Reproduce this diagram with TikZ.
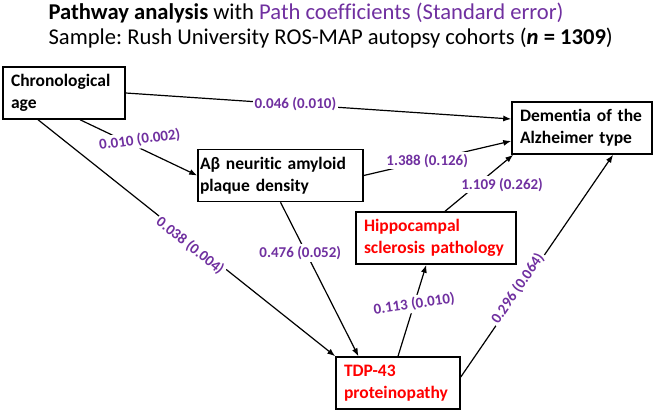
\documentclass[tikz,border=0pt]{standalone}
\usepackage{fontspec}
\setmainfont{Carlito}[Ligatures=NoCommon]
\setsansfont{Carlito}[Ligatures=NoCommon]
\frenchspacing
\usetikzlibrary{arrows.meta, calc}
\definecolor{cpurple}{HTML}{7030A0}
\definecolor{cred}{HTML}{FF0000}
\tikzset{
  every picture/.style={line width=1.2pt},
  box/.style={draw, line width=1.5pt, align=left, inner xsep=8pt, inner ysep=0pt, minimum height=52pt, font=\fontsize{17.5}{22}\selectfont\bfseries},
  arrow/.style={-{Latex[length=8pt, width=6pt]}, line width=1.2pt},
  coef/.style={font=\fontsize{15}{17}\selectfont\bfseries, text=cpurple, fill=white, inner sep=2pt},
  title/.style={anchor=base west, inner sep=0pt, font=\fontsize{22.6}{26}\selectfont},
}

\begin{document}
\begin{tikzpicture}[x=1pt, y=-1pt]
  \useasboundingbox (0,0) rectangle (655,413);
  % heading
  \node[title] (head) at (48,19) {\textbf{Pathway analysis} with \textcolor{cpurple}{Path coefficients (Standard error)}};
  \node[title] (sample) at (48,44) {Sample: Rush University ROS-MAP autopsy cohorts (\textbf{\textit{n} = 1309})};
  % variables
  \node[box, text width=106pt] (chrono) at (64,93) {Chronological\\age};
  \node[box, text width=161pt, inner xsep=2pt] (abeta) at (280.5,175.5) {Aβ neuritic amyloid\\plaque density};
  \node[box, text width=124pt] (dementia) at (582,128) {Dementia of the\\Alzheimer type};
  \node[box, text width=144pt, text=cred] (hippo) at (436,238) {Hippocampal\\sclerosis pathology};
  \node[box, text width=108pt, text=cred] (tdp) at (398,383) {TDP-43\\proteinopathy};
  % paths with coefficients
  \draw[arrow] (chrono.east) -- node[coef, pos=0.44] {0.046 (0.010)} ($(dementia.west)+(0,-9)$);
  \draw[arrow] ($(chrono.south west)!0.63!(chrono.south east)$) -- node[coef, pos=0.52, rotate=8, yshift=9pt] {0.010 (0.002)} (abeta.west);
  \draw[arrow] ($(chrono.south west)!0.29!(chrono.south east)$) -- node[coef, pos=0.52, sloped, yshift=-4pt] {0.038 (0.004)} (tdp.north west);
  \draw[arrow] (abeta.south) -- node[coef, pos=0.33, xshift=-6pt] {0.476 (0.052)} ($(tdp.north west)!0.185!(tdp.north east)$);
  \draw[arrow] (abeta.east) -- node[coef, pos=0.43] {1.388 (0.126)} ($(dementia.west)+(0,13)$);
  \draw[arrow] ($(hippo.north west)!0.556!(hippo.north east)$) -- node[coef, pos=0.47, xshift=25pt] {1.109 (0.262)} ($(dementia.south west)+(2,0)$);
  \draw[arrow] (tdp.north) -- node[coef, pos=0.57, rotate=8] {0.113 (0.010)} ($(hippo.south west)!0.44!(hippo.south east)$);
  \draw[arrow] ($(tdp.east)+(0,-6)$) -- node[coef, pos=0.39, sloped, yshift=3pt] {0.296 (0.064)} ($(dementia.south west)!0.72!(dementia.south east)$);
\end{tikzpicture}
\end{document}
